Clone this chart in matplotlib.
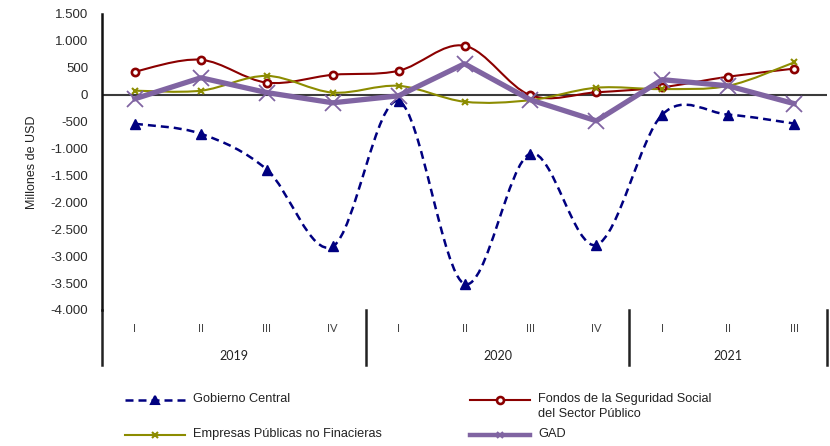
import matplotlib
matplotlib.use("Agg")
import matplotlib.pyplot as plt
from matplotlib.path import Path
from matplotlib.patches import PathPatch
from matplotlib.lines import Line2D
from matplotlib.ticker import FuncFormatter
import matplotlib.transforms as mtransforms

plt.rcParams['font.family'] = ['Liberation Sans', 'DejaVu Sans']

# datos (millones de USD)
trimestres = ['I', 'II', 'III', 'IV', 'I', 'II', 'III', 'IV', 'I', 'II', 'III']
anios = ['2019', '2020', '2021']
anio_pos = [1.5, 5.5, 9.0]
separadores = [-0.5, 3.5, 7.5, 10.5]

gobierno_central = [-540, -725, -1390, -2820, -120, -3515, -1095, -2790, -370, -370, -535]
fondos_ss = [430, 650, 225, 370, 445, 910, -10, 45, 140, 335, 485]
empresas_publicas = [75, 75, 350, 40, 165, -130, -100, 130, 105, 165, 600]
gad = [-75, 315, 40, -150, -20, 575, -95, -485, 280, 165, -165]


def smooth_path(ys):
    # curva suavizada tipo Excel (Catmull-Rom -> Bezier cubico)
    n = len(ys)
    pts = list(zip(range(n), ys))
    verts = [pts[0]]
    codes = [Path.MOVETO]
    for i in range(n - 1):
        p0 = pts[i - 1] if i > 0 else pts[i]
        p1 = pts[i]
        p2 = pts[i + 1]
        p3 = pts[i + 2] if i + 2 < n else pts[i + 1]
        c1 = (p1[0] + (p2[0] - p0[0]) / 6, p1[1] + (p2[1] - p0[1]) / 6)
        c2 = (p2[0] - (p3[0] - p1[0]) / 6, p2[1] - (p3[1] - p1[1]) / 6)
        verts += [c1, c2, p2]
        codes += [Path.CURVE4] * 3
    return Path(verts, codes)


fig = plt.figure(figsize=(8.3, 4.46), dpi=100)
ax = fig.add_axes([102 / 830, 1 - 310 / 446, 725 / 830, 296 / 446])

x = list(range(len(trimestres)))
navy = '#000080'
rojo = '#8B0000'
oliva = '#8C8C00'
morado = '#8064A2'
dash = (0, (3.2, 2.0))

ax.axhline(0, color='#3a3a3a', lw=1.5, zorder=1)

# Gobierno Central
ax.add_patch(PathPatch(smooth_path(gobierno_central), fill=False, edgecolor=navy,
                       lw=1.8, linestyle=dash, zorder=3))
ax.plot(x, gobierno_central, ls='none', marker='^', ms=6.5, color=navy, zorder=4)

# Fondos de la Seguridad Social
ax.add_patch(PathPatch(smooth_path(fondos_ss), fill=False, edgecolor=rojo, lw=1.5, zorder=3))
ax.plot(x, fondos_ss, ls='none', marker='o', ms=5.2, mfc='white', mec=rojo, mew=1.9, zorder=4)

# Empresas Publicas no Financieras
ax.add_patch(PathPatch(smooth_path(empresas_publicas), fill=False, edgecolor=oliva, lw=1.5, zorder=3))
ax.plot(x, empresas_publicas, ls='none', marker='x', ms=5, mew=1.5, color=oliva, zorder=4)

# GAD
ax.plot(x, gad, color=morado, lw=3.8, marker='x', ms=12, mew=1.3, zorder=5)

ax.set_xlim(-0.5, 10.5)
ax.set_ylim(-4000, 1500)
ax.set_yticks(range(-4000, 1501, 500))
ax.yaxis.set_major_formatter(FuncFormatter(lambda v, p: f"{v:,.0f}".replace(",", ".")))
ax.tick_params(axis='y', length=0, pad=10, labelsize=9.5, labelcolor='#2a2a2a')
ax.set_xticks([])
for s in ['top', 'right', 'bottom']:
    ax.spines[s].set_visible(False)
ax.spines['left'].set_linewidth(1.8)
ax.spines['left'].set_color('#111111')
ax.set_ylabel('Millones de USD', fontsize=9, color='#222222', labelpad=9)

# eje de categorias
trans = mtransforms.blended_transform_factory(ax.transData, ax.transAxes)
for sx in separadores:
    ax.add_line(Line2D([sx, sx], [0, -55 / 296], transform=trans, color='#222222',
                       lw=1.8, clip_on=False))
for xi, t in zip(x, trimestres):
    ax.text(xi, -18 / 296, t, transform=trans, ha='center', va='center',
            fontsize=8, color='#444444', family=['Lato', 'DejaVu Sans'])
for xp, a in zip(anio_pos, anios):
    ax.text(xp, -46 / 296, a, transform=trans, ha='center', va='center',
            fontsize=9, color='#222222', family=['Lato', 'DejaVu Sans'])

# leyenda
def fx(px):
    return px / 830


def fy(py):
    return 1 - py / 446


def entrada(x0, y0, texto, color, lw, ls, marker, ms, mfc=None, mew=1.5):
    fig.add_artist(Line2D([fx(x0), fx(x0 + 60)], [fy(y0), fy(y0)], color=color, lw=lw, ls=ls,
                          transform=fig.transFigure))
    fig.add_artist(Line2D([fx(x0 + 30)], [fy(y0)], color=color, marker=marker, ms=ms,
                          mfc=mfc if mfc else color, mec=color, mew=mew, ls='none',
                          transform=fig.transFigure))
    fig.text(fx(x0 + 68), fy(y0 - 7), texto, ha='left', va='top', fontsize=9.2,
             color='#222222', linespacing=1.3)


entrada(125, 400, 'Gobierno Central', navy, 1.8, dash, '^', 5.5)
entrada(125, 435, 'Empresas Públicas no Finacieras', oliva, 1.5, '-', 'x', 4.5)
entrada(470, 400, 'Fondos de la Seguridad Social\ndel Sector Público', rojo, 1.5, '-', 'o', 5,
        mfc='white', mew=1.9)
entrada(470, 435, 'GAD', morado, 3.2, '-', 'x', 4.5)

fig.savefig('out.png', dpi=100)
